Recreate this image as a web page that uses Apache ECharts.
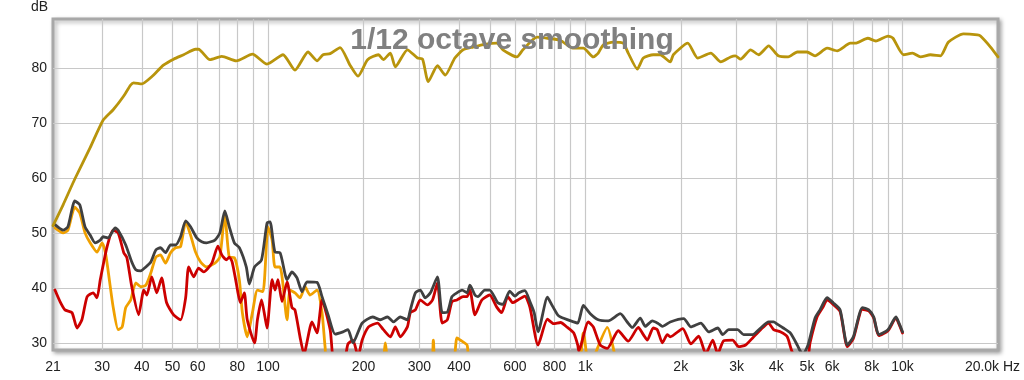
<!DOCTYPE html>
<html><head><meta charset="utf-8">
<script src="https://cdn.jsdelivr.net/npm/echarts@6/dist/echarts.min.js"></script>
<style>html,body{margin:0;padding:0;background:#fff}#c{width:1024px;height:380px}</style>
</head><body><div id="c"></div>
<script>
// Axis ticks / labels
const xGridValues = [30,40,50,60,70,80,90,100,200,300,400,500,600,700,800,900,1000,2000,3000,4000,5000,6000,7000,8000,9000,10000];
const xLabelValues = [21,30,40,50,60,80,100,200,300,400,600,800,1000,2000,3000,4000,5000,6000,8000,10000,20000];
const yTickValues = [30,40,50,60,70,80];

// Gold (top) curve
const goldFreq = [21,22.6,24.6,27.5,30.2,32.5,35,36.9,37.7,40,43,46.8,50.4,54.2,59.1,60.4,65.6,71.5,79.4,89.3,99.3,111.5,121.6,133.7,142.7,149.1,157,168.7,181.4,192.2,206,223,231,243,252,275,296,307,320,342,362,388,412,443,482,526,550,609,636,705,760,836,913,986,1060,1099,1140,1225,1317,1366,1459,1524,1638,1723,1853,1895,2104,2262,2487,2673,2872,2971,3088,3321,3519,3784,4058,4364,4659,5000,5299,5786,6222,6849,7102,7771,8236,9000,9333,10073,10753,11395,12253,13173,13962,15567,17234,17611,18944,20000];
const goldDb = [51.3,55.1,59.8,65.5,70.5,72.4,74.8,76.9,77.3,77.1,78.4,80.5,81.6,82.4,83.4,83.4,81.5,82.1,81.3,82.5,80.7,82.4,79.6,82.9,81.3,82.4,82.6,83.7,80.5,78.5,81.5,82.4,81.5,82.7,80.2,83.3,81.8,81.6,77.5,80.4,78.7,81.8,83.3,83.8,84.3,84.5,83.3,82,83.3,85.6,85.4,85,83.6,83.6,82,82.7,84.2,84.7,84.5,82.7,79.8,81.8,82.4,82.4,81.1,82.4,84.5,81.8,82.7,81.1,82,82.2,81.6,83.3,82.4,84,82.2,82,82.9,82.9,82.2,83.6,83.1,84.5,84.5,85.4,84.9,85.8,85.4,82.4,82.7,82,82.4,82.2,84.7,86.2,86,85.8,83.8,82];

// Dark gray curve
const grayFreq = [21.3,22.6,23.4,24.6,25.5,26.5,27.5,28.5,29.6,30.2,31.3,33,33.7,35.6,37.2,38.3,39.7,41.2,42.7,44.3,45.8,47.5,49.3,51.1,53,55,57,59.6,61.8,64,68,70.5,73.1,75.5,78.3,81.2,85.4,87.3,90.7,95.4,99.3,101.5,105.2,109.1,114.8,119,123.4,128,132.7,142.7,148,154.6,162.7,172.3,178.7,185.3,198,213.5,226,238,248.7,261,275,281,291.4,302,313,325,342,354,367.6,380,394,409,424,433,449,459,482,500,530,550,578,600,618,645,669,690,710,760,783,818,836,900,947,986,1037,1099,1182,1289,1356,1407,1491,1546,1627,1700,1750,1853,2044,2151,2313,2451,2616,2712,2833,3022,3156,3370,3571,3784,3924,4029,4208,4428,4659,4761,4866,5037,5299,5495,5786,6044,6359,6701,7000,7473,7826,8117,8417,9000,9538,9750,10000];
const grayDb = [51.5,50.5,51.1,55.8,55.1,51.1,49.6,48.2,48.7,49.3,49.1,50.9,50.5,47.8,44.7,43.3,43.1,43.8,44.7,46.9,47.3,46.4,47.8,47.8,49.3,52.2,51.1,49.1,48.4,48.2,48.7,50,54,51.1,48.2,47.3,43.8,40.7,43.8,45.1,51.8,52,46.5,46.4,41.5,42.9,41.8,39.3,41.1,41,38.4,35.1,31.6,32,32.4,30,33.6,34.7,34.2,34.7,33.8,34.7,34.2,36,39.1,39.6,38.2,39.1,42,35.5,35.6,38.4,39.1,39.6,39.1,40.5,38.7,38.4,39.6,39.6,37.3,37,39.4,38.5,39.1,39.5,37.5,35.5,32,38.3,37,35.1,34.7,34,33.6,36.8,35.3,34.2,34,35.3,33.8,32.8,34.5,33,34,33.5,33,33.8,34.4,32.9,33.6,32,32.7,31.5,32.4,32.4,31.5,31.5,32.7,33.8,33.8,33.4,32.7,31.8,29.6,28.5,28,29.6,34.5,36,38.2,37.3,36,29.6,31.1,36.4,36,34.7,31.5,32.4,34.7,33.6,32];

// Red curve
const redFreq = [21.3,22.1,22.9,24.1,25,25.9,26.9,28.1,28.9,29.6,31.1,32.5,33.7,35.1,35.9,37.2,39.1,40.6,41.5,43,44.6,46.2,47.9,50.4,53,55,56.2,58.3,60.4,62.7,66.5,69.5,71.5,73.9,75.5,77.1,79.4,81.8,84.2,86,90.7,92.6,95.4,97.8,99.3,103,105.2,107.5,110.7,114.8,119,121.6,126.2,129.8,137.6,142.7,148,157,161.5,173.7,178.7,185.3,192.2,198,207.4,221.4,231,243,252,261,275,281,291.4,302,318,330,342,354,367.6,380,394,412,424,433,449,472,500,526,545,570,591,613,645,669,710,760,794,836,879,920,947,954,1022,1060,1115,1173,1271,1366,1470,1524,1569,1638,1687,1750,1814,1853,2029,2151,2279,2398,2523,2616,2732,2914,3044,3203,3370,3571,3784,3924,4118,4332,4524,5000,5110,5377,5616,5786,6044,6359,6701,7000,7473,7826,8117,8417,9000,9538,9750,10000];
const redDb = [39.6,37.5,36,35.5,32.7,34.2,38.4,39.1,38.2,41.5,47.5,50.5,50,46.4,45.5,40.2,35.1,39.6,38.7,42,39.1,41.8,37.3,35.1,34.2,38.2,43.8,42,43.6,42.9,44.5,47.6,46,45.1,45.6,44.7,40.9,37.3,39.1,34.2,30,34.2,37.8,34.7,32.7,41.5,39.6,41.5,37.5,41.1,36.4,36,31,28,33.8,31.8,37.8,32.4,27,27,29.8,30.5,27.5,30.5,32.9,33.6,32.4,31.1,32.9,31.1,32.9,35.5,36,37.8,36.9,37.8,40.9,33.6,34.2,37.5,37.8,38.4,38.4,39.6,35.1,37.8,38.7,36.5,35.5,38.4,37.3,37.8,38.5,36.5,29.6,34.3,33.5,33.7,32.8,31.8,29.6,28.5,33.8,32.9,29.6,29,32.2,30.3,32.8,31.5,30.5,32.7,32.4,30,31.5,31.1,32.6,29.8,31.2,28,30.5,28,30.4,30.5,29.3,29.6,30.9,32.4,33.6,32.4,32,31.1,28,27,30,34.7,36.5,37.8,37,35.7,29.3,30.8,36.1,35.8,34.5,31.3,32.2,34.5,33.4,31.8];

// Orange curve
const orangeFreq = [21.3,22.6,23.4,24.6,25.5,26.5,27.5,28.9,30,30.7,31.3,32.5,33.7,34.7,35.6,36.9,38.3,39.7,41.2,42.7,44.3,45.8,47.5,49.3,51.1,53,55,57,59.1,61.3,64,68,70.5,73.1,75.5,78.3,81.2,83,86,89.3,92.6,96.4,100,103,105.2,109.1,114.8,117.3,121.6,126.2,130.8,135.7,142.7,148,151.3,154.6,226,234.3,243,325,332,339,380,394,404,424,436,933,986,1029,1075,1173,1265];
const orangeDb = [50.9,50,50.5,54.7,53.6,50,48.2,46.5,48.2,46.5,43.3,36.5,32.4,32.9,36.4,37.8,40.9,40.2,40.5,42.7,45.6,46,44.5,46.4,47.3,47.5,52,49.6,46.5,44.7,43.8,44.5,45.6,53.3,45.6,45.5,41.5,35.5,31.1,35.5,39.6,39.3,51.1,48.7,43.8,43.8,34.2,39.6,39.1,38.2,40.2,38.7,39.6,35.5,29.3,25,25,30,25,25,30.5,25,25,30.9,30.5,29.6,26,25,31.8,25,28,32.8,25];

function pairs(f, d) { return f.map((v, i) => [v, d[i]]); }

const FONT = 'Liberation Sans, Arial, sans-serif';
const chart = echarts.init(document.getElementById('c'), null, { renderer: 'canvas' });
const mkLine = (name, f, d, color) => ({
  name, type: 'line', data: pairs(f, d), showSymbol: false, symbol: 'none', clip: true,
  smooth: 0.2,
  lineStyle: { color, width: 2.8, join: 'round', cap: 'round' }, itemStyle: { color }
});
chart.setOption({
  animation: false,
  backgroundColor: '#ffffff',
  title: {
    text: '1/12 octave smoothing', left: 'center', top: 21,
    textStyle: { fontFamily: FONT, fontWeight: 'bold', fontSize: 30, color: '#808080' }
  },
  grid: {
    left: 53, right: 26, top: 19, bottom: 30, show: true,
    backgroundColor: '#ffffff', borderColor: '#a8a8a8', borderWidth: 3,
    shadowColor: 'rgba(0,0,0,0.3)', shadowBlur: 4, shadowOffsetX: 2, shadowOffsetY: 2
  },
  xAxis: {
    type: 'log', logBase: 10, min: 21, max: 20000,
    axisLine: { show: false },
    axisTick: { show: false, customValues: xGridValues },
    splitLine: { show: true, lineStyle: { color: '#c8c8c8', width: 1.2 } },
    axisLabel: {
      customValues: xLabelValues, margin: 10, fontFamily: FONT, fontSize: 14, color: '#222',
      formatter: v => {
        if (v >= 20000) return '{e|20.0k Hz}';
        if (v >= 1000) return (v / 1000) + 'k';
        return String(v);
      },
      rich: { e: { fontFamily: FONT, fontSize: 14, color: '#222', padding: [0, 11, 0, 0] } }
    }
  },
  yAxis: {
    type: 'value', min: 28.7, max: 88.9,
    name: 'dB', nameLocation: 'end', nameGap: 12,
    nameTextStyle: { fontFamily: FONT, fontSize: 14, color: '#222', align: 'right', verticalAlign: 'middle', padding: [0, 5, 0, 0] },
    axisLine: { show: false },
    axisTick: { show: false, customValues: yTickValues },
    axisLabel: { customValues: yTickValues, margin: 6, fontFamily: FONT, fontSize: 14, color: '#222' },
    splitLine: { show: true, lineStyle: { color: '#c8c8c8', width: 1.2 } }
  },
  series: [
    mkLine('Orange', orangeFreq, orangeDb, '#f0a000'),
    mkLine('Red', redFreq, redDb, '#cc0000'),
    mkLine('Gray', grayFreq, grayDb, '#404040'),
    mkLine('Gold', goldFreq, goldDb, '#b8940c')
  ]
});
</script></body></html>
